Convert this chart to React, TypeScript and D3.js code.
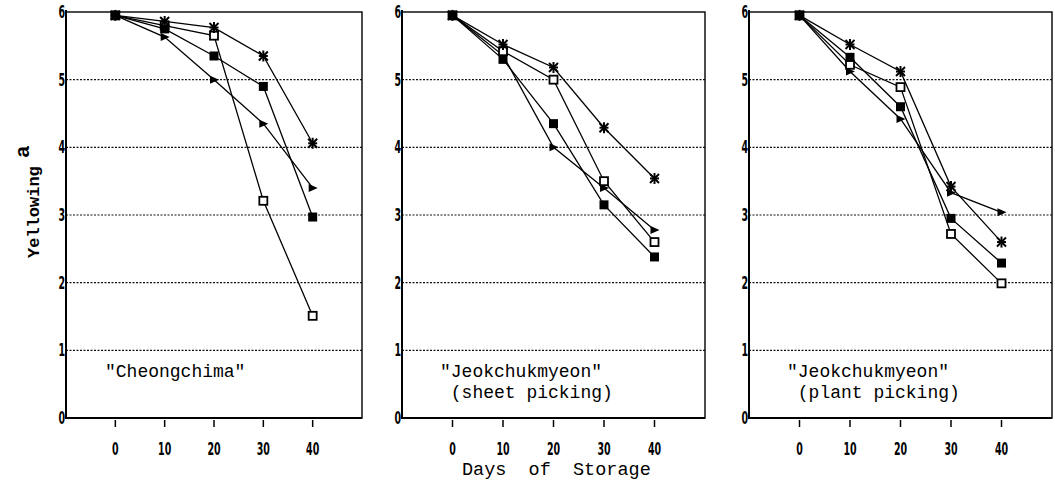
import React from "react";
import * as d3 from "d3";

const days = [0, 10, 20, 30, 40];
const xTicks = [0, 10, 20, 30, 40];
const yTicks = [0, 1, 2, 3, 4, 5, 6];
const gridValues = [1, 2, 3, 4, 5];

const panelTitles = [
  ['"Cheongchima"'],
  ['"Jeokchukmyeon"', " (sheet picking)"],
  ['"Jeokchukmyeon"', " (plant picking)"],
];

// Panel 1: "Cheongchima"
const p1Star = [5.95, 5.86, 5.77, 5.35, 4.06];
const p1Filled = [5.95, 5.75, 5.35, 4.9, 2.97];
const p1Open = [5.95, 5.8, 5.65, 3.21, 1.51];
const p1Tri = [5.95, 5.63, 5.0, 4.35, 3.4];

// Panel 2: sheet picking
const p2Star = [5.95, 5.52, 5.18, 4.29, 3.54];
const p2Filled = [5.95, 5.3, 4.35, 3.15, 2.38];
const p2Open = [5.95, 5.42, 5.0, 3.5, 2.6];
const p2Tri = [5.95, 5.36, 4.0, 3.4, 2.78];

// Panel 3: plant picking
const p3Star = [5.95, 5.52, 5.12, 3.42, 2.6];
const p3Filled = [5.95, 5.33, 4.6, 2.95, 2.29];
const p3Open = [5.95, 5.22, 4.89, 2.72, 1.99];
const p3Tri = [5.95, 5.12, 4.42, 3.33, 3.04];

const panelsData = [
  { star: p1Star, filled: p1Filled, open: p1Open, tri: p1Tri },
  { star: p2Star, filled: p2Filled, open: p2Open, tri: p2Tri },
  { star: p3Star, filled: p3Filled, open: p3Open, tri: p3Tri },
];

const panelBounds = [
  [66, 362],
  [402, 705],
  [749, 1052],
];
const TOP = 12;
const BOTTOM = 418;

const tickFont = "'DejaVu Sans Condensed', 'DejaVu Sans', sans-serif";
const monoFont = "'Liberation Mono', 'DejaVu Sans Mono', monospace";

function Marker({ kind, x, y }: { kind: string; x: number; y: number }) {
  if (kind === "filled") {
    return <rect x={x - 4.5} y={y - 4.5} width={9} height={9} fill="#000" />;
  }
  if (kind === "open") {
    return (
      <rect x={x - 4} y={y - 4} width={8} height={8} fill="#fff" stroke="#000" strokeWidth={1.8} />
    );
  }
  if (kind === "tri") {
    const p = `${x - 4},${y - 4} ${x + 5},${y} ${x - 4},${y + 4}`;
    return <polygon points={p} fill="#000" />;
  }
  // star
  const r = 4.5;
  return (
    <g stroke="#000" strokeWidth={2}>
      <line x1={x - r} y1={y - r} x2={x + r} y2={y + r} />
      <line x1={x - r} y1={y + r} x2={x + r} y2={y - r} />
      <line x1={x} y1={y - r - 1} x2={x} y2={y + r + 1} />
      <line x1={x - r} y1={y} x2={x + r} y2={y} />
    </g>
  );
}

function Panel({ idx }: { idx: number }) {
  const [x0, x1] = panelBounds[idx];
  const x = d3.scaleLinear().domain([-10, 50]).range([x0, x1]);
  const y = d3.scaleLinear().domain([0, 6]).range([BOTTOM, TOP]);
  const data = panelsData[idx];
  const line = d3
    .line<number>()
    .x((_, i) => x(days[i]))
    .y((v) => y(v));
  const series: [string, number[]][] = [
    ["tri", data.tri],
    ["open", data.open],
    ["filled", data.filled],
    ["star", data.star],
  ];
  const titles = panelTitles[idx];
  return (
    <g>
      {gridValues.map((g) => (
        <line
          key={g}
          x1={x0}
          x2={x1}
          y1={y(g)}
          y2={y(g)}
          stroke="#111"
          strokeWidth={1.2}
          strokeDasharray="2,1.5"
        />
      ))}
      <rect x={x0} y={TOP} width={x1 - x0} height={BOTTOM - TOP} fill="none" stroke="#000" strokeWidth={1.4} />
      <line x1={x0} x2={x0} y1={TOP - 2} y2={BOTTOM + 1} stroke="#000" strokeWidth={2} />
      <line x1={x0 - 1} x2={x1} y1={BOTTOM} y2={BOTTOM} stroke="#000" strokeWidth={2} />
      {xTicks.map((t) => (
        <g key={t}>
          <line x1={x(t)} x2={x(t)} y1={BOTTOM + 2} y2={BOTTOM + 9} stroke="#000" strokeWidth={1.5} />
          <text
            transform={`translate(${x(t)},${BOTTOM + 37}) scale(0.62,1)`}
            textAnchor="middle"
            fontFamily={tickFont}
            fontWeight="bold"
            fontSize={17}
            fill="#000"
          >
            {t}
          </text>
        </g>
      ))}
      {yTicks.map((t) => (
        <text
          key={t}
          transform={`translate(${x0 - 1},${y(t) + 6}) scale(0.62,1)`}
          textAnchor="end"
          fontFamily={tickFont}
          fontWeight="bold"
          fontSize={17}
          fill="#000"
        >
          {t}
        </text>
      ))}
      {series.map(([kind, vals]) => (
        <path key={kind} d={line(vals) || ""} fill="none" stroke="#000" strokeWidth={1.3} />
      ))}
      {series.map(([kind, vals]) =>
        vals.map((v, i) => <Marker key={kind + i} kind={kind} x={x(days[i])} y={y(v)} />)
      )}
      {titles.map((t, i) => (
        <text
          key={i}
          x={idx === 0 ? x0 + 39 : x0 + 38}
          y={377 + i * 21}
          fontFamily={monoFont}
          fontSize={18}
          style={{ whiteSpace: "pre" }}
          fill="#000"
        >
          {t}
        </text>
      ))}
    </g>
  );
}

export default function App() {
  return (
    <svg
      width={1055}
      height={483}
      style={{ position: "absolute", left: 0, top: 0, background: "#fff" }}
    >
      <rect x={0} y={0} width={1055} height={483} fill="#fff" />
      {panelBounds.map((_, i) => (
        <Panel key={i} idx={i} />
      ))}
      <text
        transform="translate(39,258) rotate(-90)"
        fontFamily={monoFont}
        fontWeight="bold"
        fontSize={17}
        fill="#000"
      >
        Yellowing
      </text>
      <text
        transform="translate(29,158) rotate(-90)"
        fontFamily={monoFont}
        fontWeight="bold"
        fontSize={21}
        fill="#000"
      >
        a
      </text>
      <text
        x={462}
        y={475}
        fontFamily={monoFont}
        fontSize={18.5}
        style={{ whiteSpace: "pre" }}
        fill="#000"
      >
        {"Days  of  Storage"}
      </text>
    </svg>
  );
}
